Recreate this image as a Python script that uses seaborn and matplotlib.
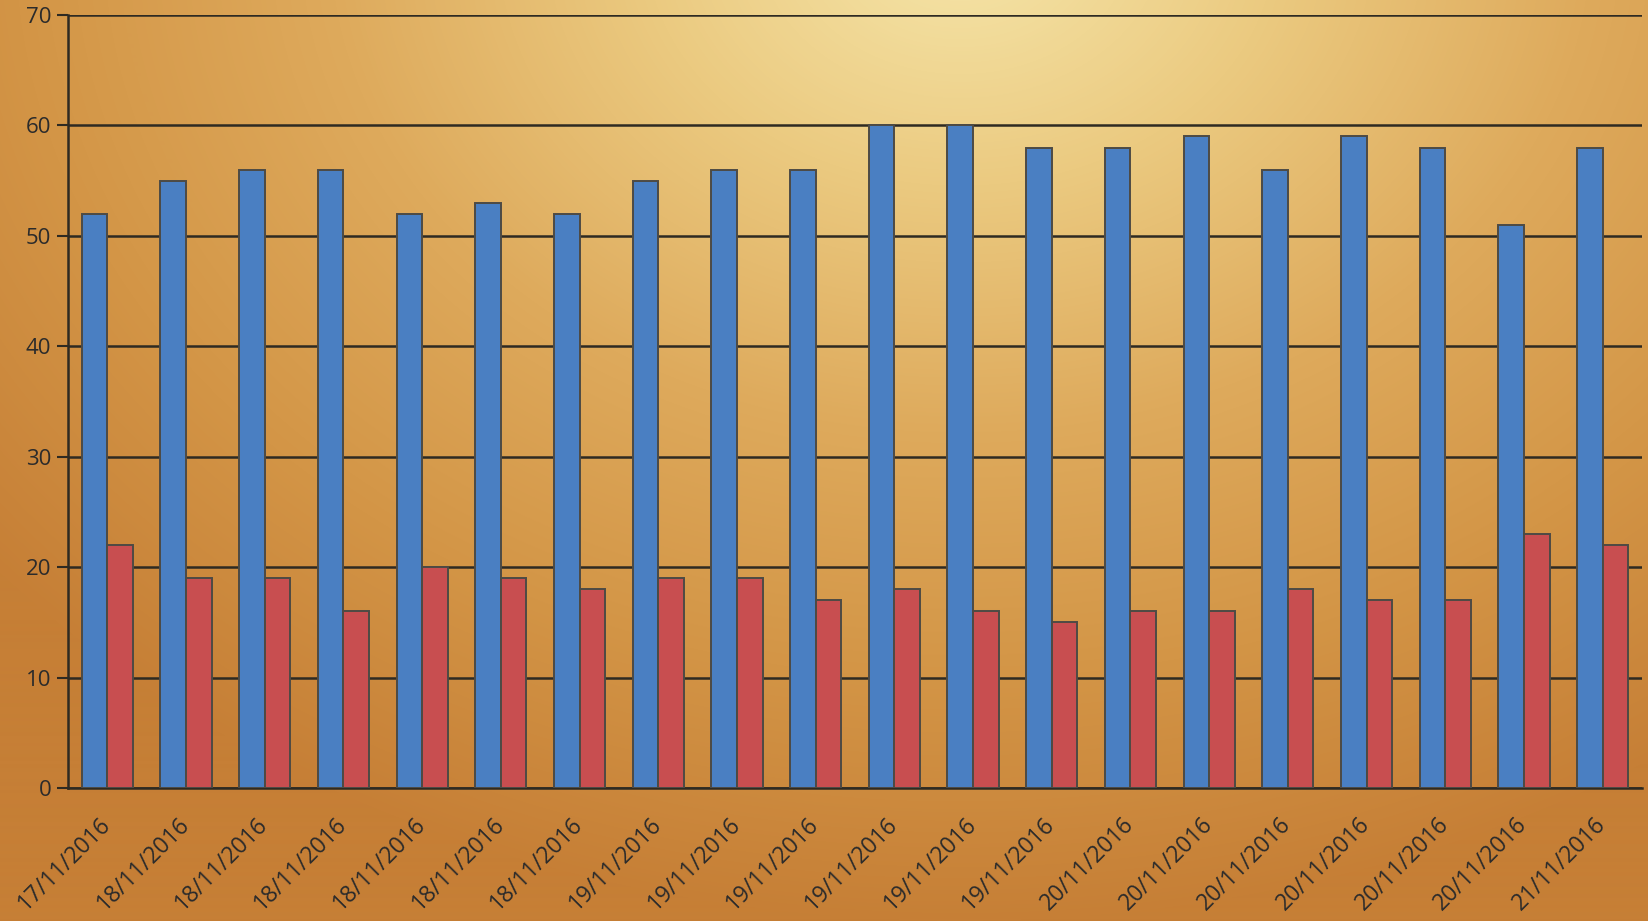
import numpy as np
import pandas as pd
import matplotlib
matplotlib.use("Agg")
import matplotlib.pyplot as plt
from matplotlib.colors import LinearSegmentedColormap
import seaborn as sns

# Readings per sample
dates = ["17/11/2016", "18/11/2016", "18/11/2016", "18/11/2016", "18/11/2016",
         "18/11/2016", "18/11/2016", "19/11/2016", "19/11/2016", "19/11/2016",
         "19/11/2016", "19/11/2016", "19/11/2016", "20/11/2016", "20/11/2016",
         "20/11/2016", "20/11/2016", "20/11/2016", "20/11/2016", "21/11/2016"]
series_a = [52, 55, 56, 56, 52, 53, 52, 55, 56, 56, 60, 60, 58, 58, 59, 56, 59, 58, 51, 58]
series_b = [22, 19, 19, 16, 20, 19, 18, 19, 19, 17, 18, 16, 15, 16, 16, 18, 17, 17, 23, 22]
y_ticks = [0, 10, 20, 30, 40, 50, 60, 70]

n = len(dates)
df = pd.DataFrame({
    "idx": list(range(n)) * 2,
    "value": series_a + series_b,
    "series": ["A"] * n + ["B"] * n,
})

sns.set_theme(style="white")
plt.rcParams["font.family"] = ["Open Sans", "DejaVu Sans"]

W, H = 1648, 921
fig = plt.figure(figsize=(W / 100, H / 100), dpi=100)

# Warm wooden backdrop: bright glow at the top centre fading to amber edges
bg_ax = fig.add_axes([0, 0, 1, 1], zorder=-10)
yy, xx = np.mgrid[0:H, 0:W]
d = np.sqrt(((xx - 960) / 1050.0) ** 2 + ((yy + 60) / 820.0) ** 2)
d = np.clip(d, 0, 1.2) / 1.2
cmap = LinearSegmentedColormap.from_list(
    "wood", ["#f6e6aa", "#ebca80", "#deaa5c", "#d39546", "#c67f36"])
bg_ax.imshow(cmap(d), aspect="auto", extent=[0, 1, 0, 1], origin="upper")
bg_ax.set_axis_off()

ax = fig.add_axes([68 / W, 1 - 788 / H, (1642 - 68) / W, (788 - 15) / H])
ax.patch.set_alpha(0)

sns.barplot(data=df, x="idx", y="value", hue="series",
            palette=["#4a7fc2", "#c84e50"], width=0.65, dodge=True,
            edgecolor="#4d4a44", linewidth=1.4, saturation=1,
            legend=False, ax=ax, zorder=3)

ax.set_xlim(-0.5, n - 0.5)
ax.set_ylim(0, 70)
ax.set_yticks(y_ticks)
ax.set_yticklabels([str(v) for v in y_ticks], fontsize=16, color="#2b2b2b")
ax.yaxis.grid(True, color="#2e2a22", linewidth=1.8, zorder=0)
ax.set_axisbelow(True)

ax.set_xticks(range(n))
ax.set_xticklabels(dates, rotation=45, ha="right", va="center",
                   rotation_mode="anchor", fontsize=16.5, color="#2b2b2b")
ax.tick_params(axis="x", which="major", length=0, pad=24)
ax.set_xticks(np.arange(-0.5, n - 0.5, 1.0), minor=True)
ax.tick_params(axis="x", which="minor", length=8, width=1.5, color="#2e2a22")
ax.tick_params(axis="y", length=8, width=1.5, color="#2e2a22", pad=4, left=True)

ax.set_xlabel("")
ax.set_ylabel("")
for side in ["top", "right"]:
    ax.spines[side].set_visible(False)
for side in ["left", "bottom"]:
    ax.spines[side].set_color("#2e2a22")
    ax.spines[side].set_linewidth(1.8)

fig.savefig("out.png", dpi=100)
